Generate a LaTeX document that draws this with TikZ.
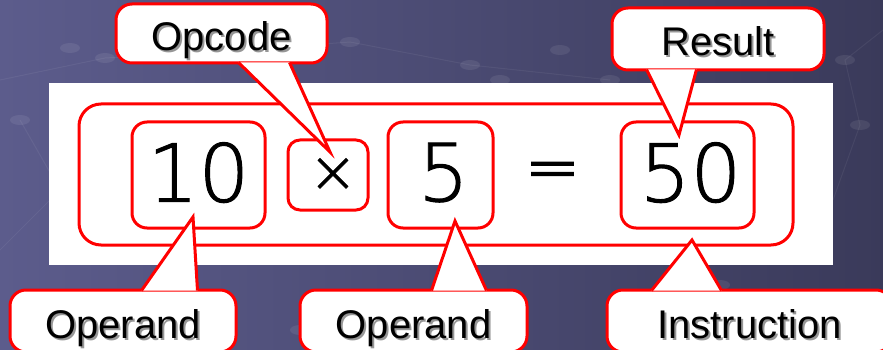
\documentclass[tikz,border=0pt]{standalone}
\usepackage{fontspec}
\setmainfont{Liberation Sans}
\newfontfamily\numfont[AutoFakeBold=1.2]{DejaVu Sans ExtraLight}
\newfontfamily\eqfont[AutoFakeBold=2.5]{DejaVu Sans ExtraLight}
\usetikzlibrary{calc}
\definecolor{bgleft}{RGB}{92,92,140}
\definecolor{bgright}{RGB}{58,58,90}
\definecolor{boxred}{RGB}{255,0,0}
\definecolor{shadowgray}{RGB}{150,150,150}
\newcommand\shtext[1]{\rlap{\kern2pt\raisebox{-2pt}{\color{shadowgray}#1}}#1}
\tikzset{
  box/.style={draw=boxred, line width=3pt, rounded corners=15pt, inner sep=0pt,
    font=\numfont\bfseries\fontsize{80}{80}\selectfont, text depth=6pt},
  callout/.style={draw=boxred, fill=white, line width=3pt, rounded corners=16pt, inner sep=0pt,
    minimum height=60pt, text height=38pt, text depth=4pt, font=\fontsize{40}{40}\selectfont},
  pointer/.style={draw=boxred, line width=3pt},
}
\begin{document}
\begin{tikzpicture}[x=1pt,y=-1pt]
\useasboundingbox (0,0) rectangle (883,350);
\shade[left color=bgleft, right color=bgright] (0,0) rectangle (883,350);%背景
\foreach \x/\y in {70/48,105/58,215/52,350/42,470/65,500/80,20/120,60/190,120/300,400/310,480/300,720/285,760/150,860/125,845/60,560/50,610/80,300/330}
  \fill[white, opacity=0.08] (\x,\y) ellipse (10pt and 5pt);%底纹小圆点
\draw[white, opacity=0.06, line width=1pt] (0,80) -- (105,58) -- (215,52) -- (350,42) -- (470,65) -- (610,80);
\draw[white, opacity=0.06, line width=1pt] (0,250) -- (60,190) -- (20,120);
\draw[white, opacity=0.06, line width=1pt] (833,200) -- (860,125) -- (845,60) -- (883,30);
\fill[white] (49,83) rectangle (833,265);%白色底板
\node[box, minimum width=714pt, minimum height=141pt, rounded corners=22pt] (instr) at (436,174.5) {};
\node[box, minimum width=133pt, minimum height=106pt] (opa) at (198.5,175) {10};
\node[box, minimum width=80pt, minimum height=70pt, rounded corners=12pt, text depth=0pt,
  font=\numfont\bfseries\fontsize{58}{58}\selectfont] (opc) at (328,175) {\kern10pt×};
\node[box, minimum width=105pt, minimum height=106pt] (opb) at (440.5,175) {\kern6pt5};
\node[font=\eqfont\bfseries\fontsize{66}{66}\selectfont] (eq) at (552.5,176) {=};
\node[box, minimum width=133pt, minimum height=106pt] (res) at (687.5,175) {\kern6pt50};
% 标注框
\node[callout, minimum width=211pt, minimum height=59pt] (opcode) at (221.5,33.5) {\shtext{Opcode}};
\node[callout, minimum width=212pt, minimum height=62pt] (result) at (718,39) {\shtext{Result}};
\node[callout, minimum width=226pt, minimum height=62pt] (operanda) at (123,321) {\shtext{Operand}};
\node[callout, minimum width=227pt, minimum height=62pt] (operandb) at (413.5,321) {\shtext{Operand}};
\node[callout, minimum width=285pt, minimum height=62pt] (instruction) at (749.5,321) {\shtext{Instruction}};
\coordinate (opcode-tip) at (330,152);
\coordinate (result-tip) at (679,135);
\coordinate (operanda-tip) at (193,217);
\coordinate (operandb-tip) at (455,221);
\coordinate (instruction-tip) at (692,240);
% 尖角
\fill[white] ($(opcode.south west)+(124,-2)$) -- (opcode-tip) -- ($(opcode.south west)+(175,-2)$) -- cycle;
\draw[pointer] ($(opcode.south west)+(124,-2)$) -- (opcode-tip) -- ($(opcode.south west)+(175,-2)$);
\fill[white] ($(result.south west)+(36,-2)$) -- (result-tip) -- ($(result.south west)+(86,-2)$) -- cycle;
\draw[pointer] ($(result.south west)+(36,-2)$) -- (result-tip) -- ($(result.south west)+(86,-2)$);
\fill[white] ($(operanda.north west)+(133,2)$) -- (operanda-tip) -- ($(operanda.north west)+(189,2)$) -- cycle;
\draw[pointer] ($(operanda.north west)+(133,2)$) -- (operanda-tip) -- ($(operanda.north west)+(189,2)$);
\fill[white] ($(operandb.north west)+(133,2)$) -- (operandb-tip) -- ($(operandb.north west)+(188,2)$) -- cycle;
\draw[pointer] ($(operandb.north west)+(133,2)$) -- (operandb-tip) -- ($(operandb.north west)+(188,2)$);
\fill[white] ($(instruction.north west)+(46,2)$) -- (instruction-tip) -- ($(instruction.north west)+(116,2)$) -- cycle;
\draw[pointer] ($(instruction.north west)+(46,2)$) -- (instruction-tip) -- ($(instruction.north west)+(116,2)$);
\end{tikzpicture}
\end{document}
